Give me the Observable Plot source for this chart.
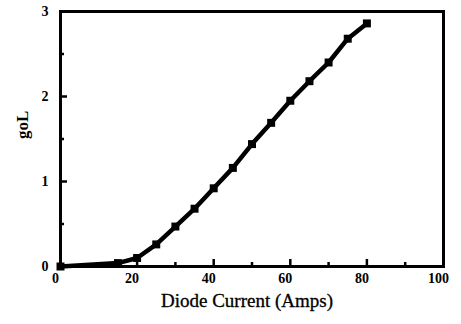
<!DOCTYPE html>
<html>
<head>
<meta charset="utf-8">
<script src="https://cdn.jsdelivr.net/npm/d3@7"></script>
<script src="https://cdn.jsdelivr.net/npm/@observablehq/plot@0.6"></script>
<style>
  html, body { margin: 0; padding: 0; background: #fff; }
  #chart { width: 461px; height: 324px; }
</style>
</head>
<body>
<div id="chart"></div>
<script>
const current = [0, 15, 20, 25, 30, 35, 40, 45, 50, 55, 60, 65, 70, 75, 80];
const gain    = [0, 0.04, 0.1, 0.26, 0.47, 0.68, 0.92, 1.16, 1.44, 1.69, 1.95, 2.18, 2.40, 2.68, 2.86];
const xTickLabels = [0, 20, 40, 60, 80, 100];
const yTickLabels = [0, 1, 2, 3];
const xMinorTicks = [10, 30, 50, 70, 90];
const xMajorTicks = [20, 40, 60, 80];
const yMinorTicks = [0.5, 1.5, 2.5];
const yMajorTicks = [1, 2];
const xLabel = "Diode Current (Amps)";
const yLabel = "goL";

const data = current.map((c, i) => ({current: c, gain: gain[i]}));
const font = "'Liberation Serif', 'DejaVu Serif', serif";

const chart = Plot.plot({
  width: 461,
  height: 324,
  marginLeft: 60,
  marginRight: 18,
  marginTop: 11,
  marginBottom: 58,
  style: {fontFamily: font, color: "#000", background: "#fff"},
  x: {domain: [0, 100]},
  y: {domain: [0, 3]},
  marks: [
    Plot.frame({stroke: "#000", strokeWidth: 3}),
    Plot.axisX(xMinorTicks, {tickSize: -4, text: null, strokeWidth: 2.5, label: null}),
    Plot.axisX(xMajorTicks, {tickSize: -7, text: null, strokeWidth: 2.5, label: null}),
    Plot.axisY(yMinorTicks, {tickSize: -4, text: null, strokeWidth: 2.5, label: null}),
    Plot.axisY(yMajorTicks, {tickSize: -7, text: null, strokeWidth: 2.5, label: null}),
    Plot.axisX(xTickLabels, {tickSize: 0, tickPadding: 7, dx: -5, tickFormat: d3.format("d"), fontSize: 14, fontWeight: "bold", label: null}),
    Plot.axisY(yTickLabels, {tickSize: 0, tickPadding: 12, tickFormat: d3.format("d"), fontSize: 14, fontWeight: "bold", label: null}),
    Plot.line(data, {x: "current", y: "gain", stroke: "#000", strokeWidth: 4.5}),
    Plot.dot(data, {x: "current", y: "gain", symbol: "square", r: 4.5, fill: "#000", stroke: "none"}),
    Plot.text([xLabel], {frameAnchor: "bottom", dy: 40, dx: -5, text: d => d, fontSize: 19, fill: "#000", stroke: "#000", strokeWidth: 0.3}),
    Plot.text([yLabel], {frameAnchor: "left", dx: -38, dy: 0, rotate: -90, text: d => d, fontSize: 17, fontWeight: "bold", fill: "#000"})
  ]
});
document.getElementById("chart").appendChild(chart);
</script>
</body>
</html>
